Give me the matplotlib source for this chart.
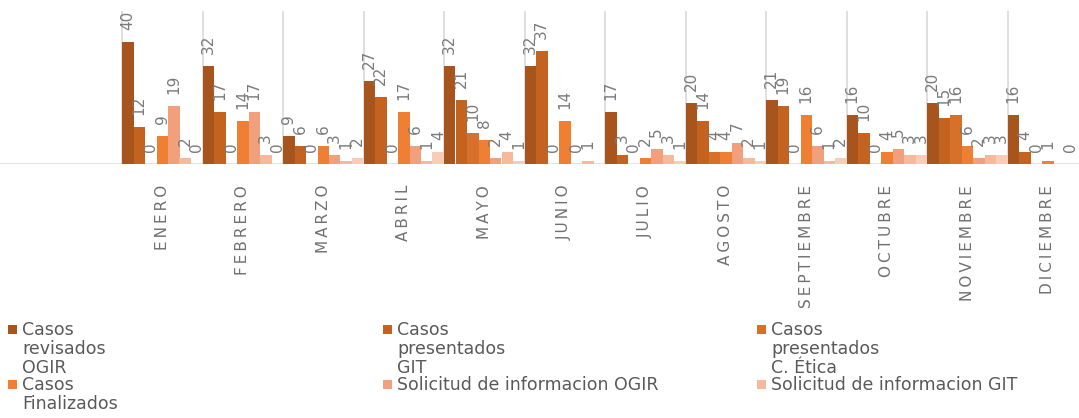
import numpy as np
import matplotlib
matplotlib.use('Agg')
import matplotlib.pyplot as plt
from matplotlib.patches import Rectangle

plt.rcParams.update({
    'font.family': ['DejaVu Sans'],
    'figure.dpi': 100,
})

# ------------------------------------------------------------
# DATA
# ------------------------------------------------------------
months = ['ENERO', 'FEBRERO', 'MARZO', 'ABRIL', 'MAYO', 'JUNIO', 'JULIO',
          'AGOSTO', 'SEPTIEMBRE', 'OCTUBRE', 'NOVIEMBRE', 'DICIEMBRE']

series_names = ['Casos\nrevisados\nOGIR',
                'Casos\npresentados\nGIT',
                'Casos\npresentados\nC. Ética',
                'Casos\nFinalizados',
                'Solicitud de informacion OGIR',
                'Solicitud de informacion GIT',
                'Otros']  # 7th series, legend row is cut off in the source

nan = np.nan
revisados_ogir = [40, 32, 9, 27, 32, 32, 17, 20, 21, 16, 20, 16]
presentados_git = [12, 17, 6, 22, 21, 37, 3, 14, 19, 10, 15, 4]
presentados_etica = [0, 0, 0, 0, 10, 0, 0, 4, 0, 0, 16, 0]
finalizados = [9, 14, 6, 17, 8, 14, 2, 4, 16, 4, 6, 1]
solicitud_ogir = [19, 17, 3, 6, 2, 0, 5, 7, 6, 5, 2, nan]
solicitud_git = [2, 3, 1, 1, 4, 1, 3, 2, 1, 3, 3, 0]
otros = [0, 0, 2, 4, 1, nan, 1, 1, 2, 3, 3, nan]

series = [revisados_ogir, presentados_git, presentados_etica, finalizados,
          solicitud_ogir, solicitud_git, otros]

colors = ['#a8541d', '#c4621f', '#d7702a', '#ee7f33',
          '#f2a07c', '#f6b99c', '#f8cdb8']

# ------------------------------------------------------------
# FIGURE
# ------------------------------------------------------------
W, H = 1079, 418
fig = plt.figure(figsize=(W / 100, H / 100), dpi=100)
fig.patch.set_facecolor('white')

# axes spans full width; baseline at y=164 px, top at y=11 px
ax = fig.add_axes([0, 1 - 164 / H, 1, (164 - 11) / H])

n_cat = len(months)
n_ser = len(series)
px_per_cat = 80.5
x_left = -122 / px_per_cat
ax.set_xlim(x_left, x_left + W / px_per_cat)
ax.set_ylim(0, 50)

bw = 1.0 / n_ser
label_color = '#7a7a7a'
for j, (vals, col) in enumerate(zip(series, colors)):
    xs = np.arange(n_cat) + (j + 0.5) * bw
    vals = np.array(vals, dtype=float)
    ax.bar(xs, np.nan_to_num(vals), width=bw, color=col, linewidth=0, zorder=3)
    for x, v in zip(xs, vals):
        if np.isnan(v):
            continue
        ax.annotate(f'{int(v)}', (x, v), xytext=(0, 12), textcoords='offset pixels',
                    rotation=90, ha='center', va='bottom', fontsize=11,
                    color=label_color, zorder=4, annotation_clip=False)

# category separators (vertical gridlines) and baseline
ax.vlines(np.arange(n_cat), 0, 50, color='#d9d9d9', lw=1.2, zorder=1)
ax.axhline(0, color='#d9d9d9', lw=1.8, zorder=2)

for s in ax.spines.values():
    s.set_visible(False)
ax.set_yticks([])
ax.set_xticks(np.arange(n_cat) + 0.5)
ax.set_xticklabels(['\u2009'.join(m) for m in months], rotation=90,
                   fontsize=11, color='#707070', va='top', ha='center')
ax.tick_params(axis='x', length=0, pad=15)

# ------------------------------------------------------------
# LEGEND (manual, 3 columns; third row is cut off)
# ------------------------------------------------------------
col_x = [8, 383, 757]
row_y = [321, 376]
for i, (name, col) in enumerate(zip(series_names[:6], colors[:6])):
    cx = col_x[i % 3]
    ry = row_y[i // 3]
    fig.patches.append(Rectangle((cx / W, 1 - (ry + 13) / H), 9 / W, 9 / H,
                                 transform=fig.transFigure, facecolor=col,
                                 edgecolor='none', figure=fig))
    fig.text((cx + 14) / W, 1 - ry / H, name, fontsize=12.5, color='#595959',
             va='top', ha='left', linespacing=1.08)

fig.savefig('out.png', dpi=100, facecolor='white')
